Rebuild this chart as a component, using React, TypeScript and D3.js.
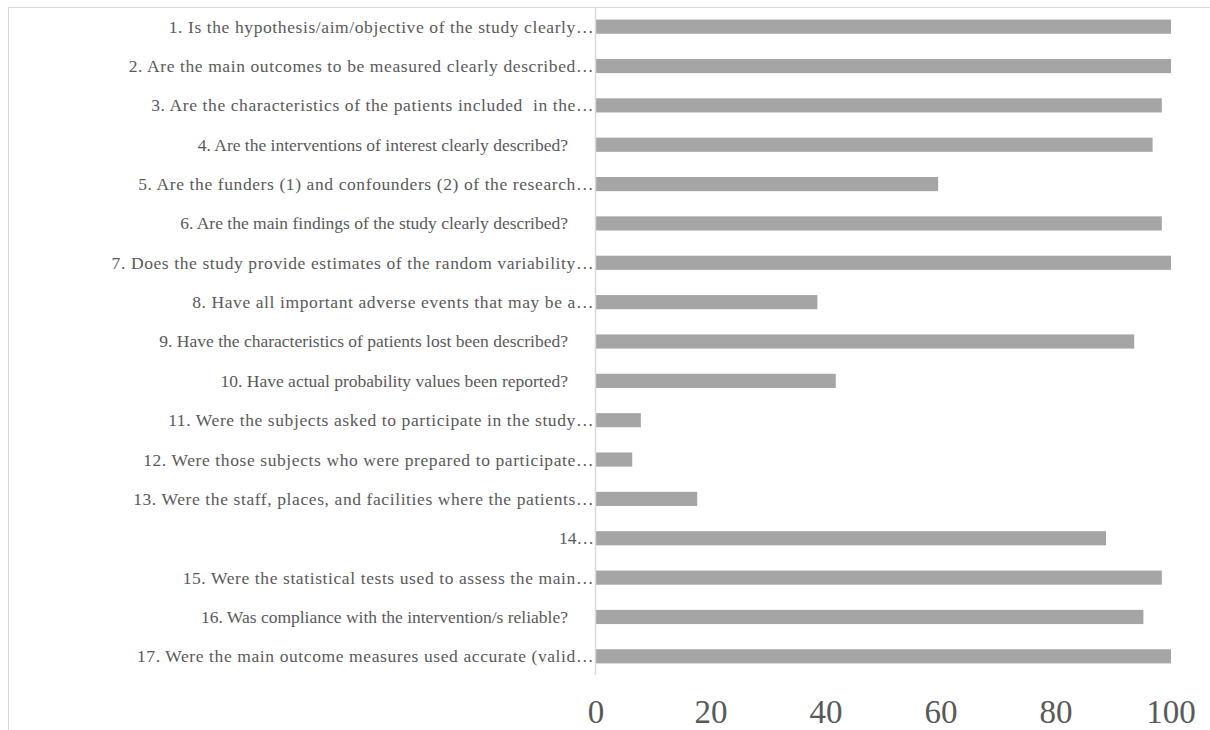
import React from "react";
import * as d3 from "d3";

// Questionnaire items (as shown on the category axis)
const questions: string[] = [
  "1. Is the hypothesis/aim/objective of the study clearly…",
  "2. Are the main outcomes to be measured clearly described…",
  "3. Are the characteristics of the patients included  in the…",
  "4. Are the interventions of interest clearly described?",
  "5. Are the funders (1) and confounders (2) of the research…",
  "6. Are the main findings of the study clearly described?",
  "7. Does the study provide estimates of the random variability…",
  "8. Have all important adverse events that may be a…",
  "9. Have the characteristics of patients lost been described?",
  "10. Have actual probability values been reported?",
  "11. Were the subjects asked to participate in the study…",
  "12. Were those subjects who were prepared to participate…",
  "13. Were the staff, places, and facilities where the patients…",
  "14…",
  "15. Were the statistical tests used to assess the main…",
  "16. Was compliance with the intervention/s reliable?",
  "17. Were the main outcome measures used accurate (valid…",
];

// Percentage of studies meeting each item
const percentages: number[] = [
  100, 100, 98.4, 96.8, 59.5, 98.4, 100, 38.5, 93.6, 41.7, 7.8, 6.3, 17.6, 88.7,
  98.4, 95.2, 100,
];

const xTicks: number[] = [0, 20, 40, 60, 80, 100];

const W = 1210;
const H = 730;
const plotLeft = 596;
const plotRight = 1171;
const plotTop = 7;
const plotBottom = 676;

export default function App() {
  const x = d3.scaleLinear().domain([0, 100]).range([plotLeft, plotRight]);
  const y = d3
    .scaleBand<string>()
    .domain(questions)
    .range([plotTop, plotBottom])
    .paddingInner(0.64)
    .paddingOuter(0.32);

  const textColor = "#595959";

  return (
    <svg
      width={W}
      height={H}
      fontFamily="Liberation Serif"
      style={{ position: "absolute", left: 0, top: 0, background: "#fff" }}
    >
      {/* chart frame (top and left edges visible) */}
      <line x1={8.5} x2={W} y1={7.5} y2={7.5} stroke="#D9D9D9" strokeWidth={1} />
      <line x1={8.5} x2={8.5} y1={7.5} y2={H} stroke="#D9D9D9" strokeWidth={1} />

      {/* bars */}
      {questions.map((q, i) => (
        <rect
          key={q}
          x={x(0)}
          y={y(q)!}
          width={x(percentages[i]) - x(0)}
          height={y.bandwidth()}
          fill="#A5A5A5"
        />
      ))}

      {/* vertical category axis line */}
      <line
        x1={plotLeft - 0.5}
        x2={plotLeft - 0.5}
        y1={plotTop}
        y2={plotBottom - 1}
        stroke="#D9D9D9"
        strokeWidth={1.5}
      />

      {/* category labels; truncated ones are spread slightly to fill the label column */}
      {questions.map((q) => {
        const truncated = q.endsWith("…");
        return (
          <text
            key={"l" + q}
            x={truncated ? plotLeft - 2 : plotLeft - 28}
            y={y(q)! + y.bandwidth() / 2}
            dy="0.34em"
            textAnchor="end"
            fontSize={17.5}
            letterSpacing={truncated && q.length > 10 ? 0.6 : 0}
            fontFamily="Liberation Serif"
            fill={textColor}
            xmlSpace="preserve"
          >
            {q}
          </text>
        );
      })}

      {/* value axis tick labels */}
      {xTicks.map((t) => (
        <text
          key={"t" + t}
          x={x(t)}
          y={723}
          textAnchor="middle"
          fontSize={33}
          fontFamily="Liberation Serif"
          fill={textColor}
        >
          {t}
        </text>
      ))}
    </svg>
  );
}
